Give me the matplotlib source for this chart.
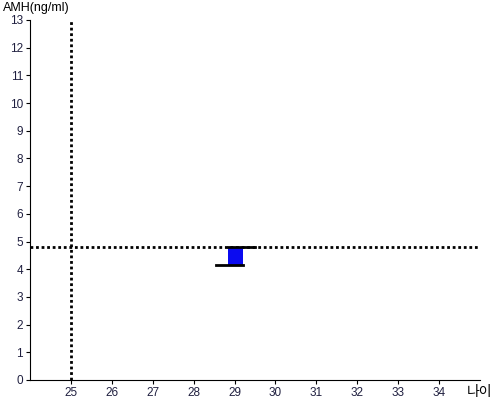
import matplotlib
matplotlib.use("Agg")
import matplotlib.pyplot as plt

# data
ref_age = 25
ref_amh = 4.8
box_left = 28.85
box_right = 29.2
box_low = 4.15
box_high = 4.8
low_line = [28.55, 29.2]
high_line = [28.85, 29.5]
x_ticks = list(range(25, 35))
y_ticks = list(range(0, 14))

plt.rcParams['font.family'] = ['Liberation Sans', 'Noto Sans CJK KR', 'DejaVu Sans']

fig = plt.figure(figsize=(5, 4), dpi=100)
ax = fig.add_axes([0.06, 0.05, 0.90, 0.90])

ax.axvline(ref_age, color='black', linestyle=(0, (1, 1)), linewidth=2)
ax.axhline(ref_amh, color='black', linestyle=(0, (1, 1)), linewidth=2)

ax.bar(box_left, box_high - box_low, width=box_right - box_left, bottom=box_low,
       align='edge', color='#0b0bf0', edgecolor='none', zorder=3)
ax.plot(low_line, [box_low, box_low], color='black', linewidth=2, zorder=4)
ax.plot(high_line, [box_high, box_high], color='black', linewidth=2, zorder=4)

ax.set_xlim(24, 35)
ax.set_ylim(0, 13)
ax.set_xticks(x_ticks)
ax.set_yticks(y_ticks)
ax.tick_params(labelsize=8.5, length=3, pad=2, color='black', labelcolor='#202040')
for s in ['top', 'right']:
    ax.spines[s].set_visible(False)

fig.text(0.005, 0.965, 'AMH(ng/ml)', fontsize=9, ha='left', va='bottom')
fig.text(0.985, 0.003, '나이', fontsize=10, ha='right', va='bottom',
         family=['Noto Sans CJK KR', 'DejaVu Sans'])

fig.savefig('out.png', dpi=100)
